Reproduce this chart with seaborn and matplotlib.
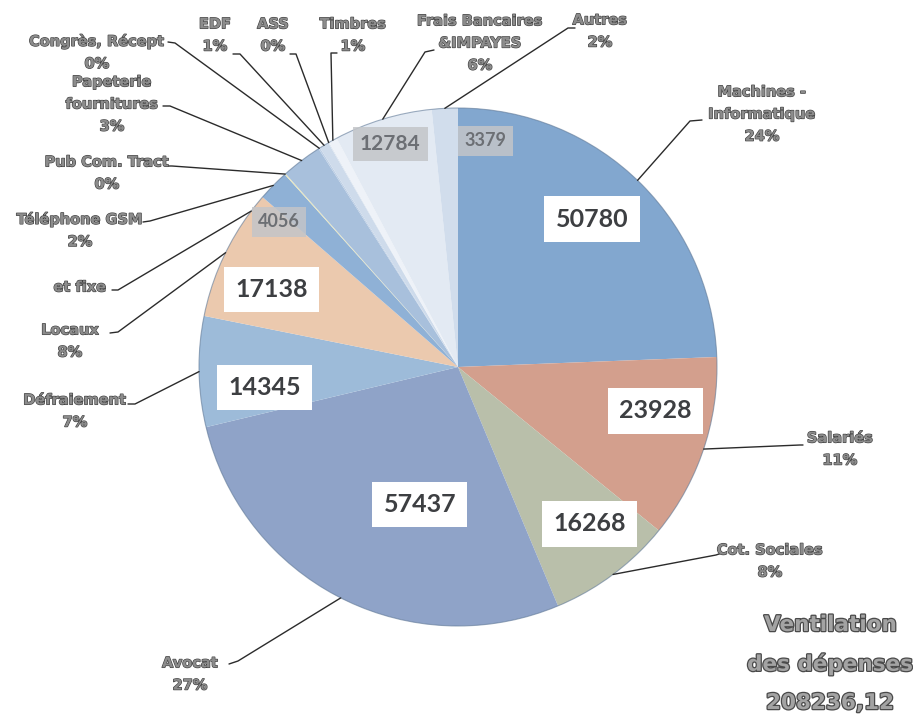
import numpy as np
import matplotlib
matplotlib.use("Agg")
import matplotlib.pyplot as plt
import matplotlib.patheffects as pe
import seaborn as sns

# --- Data ---
categories = ["Machines -\nInformatique", "Salariés", "Cot. Sociales", "Avocat",
              "Défraiement", "Locaux", "Téléphone GSM", "Pub Com. Tract",
              "Papeterie\nfournitures", "Congrès, Récept", "EDF", "ASS", "Timbres",
              "Frais Bancaires\n&IMPAYES", "Autres"]
values = [50780, 23928, 16268, 57437, 14345, 17138, 4056, 150,
          5300, 200, 1250, 121, 1100, 12784, 3379]
pct_labels = ["24%", "11%", "8%", "27%", "7%", "8%", "2%", "0%",
              "3%", "0%", "1%", "0%", "1%", "6%", "2%"]
show_value = [True, True, True, True, True, True, True, False,
              False, False, False, False, False, True, True]
title_lines = ["Ventilation", "des dépenses", "208236,12"]

colors = ["#82a7cf", "#d39f8d", "#b9bfaa", "#8fa3c8", "#9dbbd9", "#ebc9ae",
          "#8fb1d6", "#e9e7bb", "#a8c0dc", "#bdcfe5", "#cedbeb", "#dde6f1",
          "#eef2f8", "#e3eaf3", "#d1ddec"]

# --- Layout (pixels, y measured from the top) ---
W, H = 913, 715
CX, CY, R = 458, 367, 259

# value labels: radius fraction, angle shift (deg) from slice middle
value_pos = {0: (0.77, 1.7), 1: (0.78, 5.9), 2: (0.79, 3.2), 3: (0.55, 11.4),
             4: (0.75, 5.0), 5: (0.78, 3.7), 6: (0.89, 5.5), 13: (0.90, 0.0),
             14: (0.88, -9.9)}

# outer labels: text centre, leader elbow, leader end
outer = {
    0: ((762, 114), (690, 121), (702, 120)),
    1: ((840, 449), (800, 445), (803, 445)),
    2: ((770, 561), (716, 555), (722, 553)),
    3: ((190, 674), (238, 661), (229, 664)),
    4: ((75, 411), (135, 404), (128, 404)),
    5: ((70, 341), (118, 332), (110, 333)),
    6: ((80, 230), (150, 221), (143, 222)),
    7: ((107, 173), (172, 166), (168, 166)),
    8: ((112, 104), (170, 106), (163, 106)),
    9: ((97, 52), (175, 43), (168, 42)),
    10: ((215, 35), (240, 54), (233, 54)),
    11: ((273, 35), (296, 54), (290, 54)),
    12: ((353, 35), (331, 53), (337, 53)),
    13: ((480, 43), (425, 52), (434, 50)),
    14: ((600, 31), (568, 28), (575, 28)),
}
extra_label = ("et fixe", (80, 287), 143.0, (118, 290), (112, 290))


def Y(y):
    return H - y


def edge(angle, r=R):
    a = np.deg2rad(angle)
    return CX + r * np.cos(a), Y(CY) + r * np.sin(a)


sns.set_theme(style="white")
plt.rcParams["font.family"] = ["DejaVu Sans"]

fig = plt.figure(figsize=(W / 100, H / 100), dpi=100)
ax = fig.add_axes([0, 0, 1, 1])

wedges, _ = ax.pie(values, colors=colors, startangle=90, counterclock=False,
                   center=(CX, Y(CY)), radius=R,
                   wedgeprops=dict(linewidth=0))
ax.add_patch(plt.Circle((CX, Y(CY)), R, fill=False, lw=0.8,
                        ec="#5f7896", alpha=0.6))

ax.set_xlim(0, W)
ax.set_ylim(0, H)
ax.set_aspect("equal")
ax.axis("off")

mids = [(w.theta1 + w.theta2) / 2 for w in wedges]

# --- value boxes ---
for i, (v, show) in enumerate(zip(values, show_value)):
    if not show:
        continue
    rf, shift = value_pos[i]
    x, y = edge(mids[i] + shift, R * rf)
    if i in (6, 13, 14):
        fs = 15 if i == 13 else 13
        ax.text(x, y, str(v), ha="center", va="center", fontsize=fs,
                fontfamily="Lato", fontweight="bold", color="#6c6f74",
                bbox=dict(boxstyle="square,pad=0.35", fc="#c3c5c8",
                          ec="none", alpha=0.85))
    else:
        ax.text(x, y, str(v), ha="center", va="center", fontsize=18,
                fontfamily="Lato", fontweight="bold", color="#3d3f42",
                bbox=dict(boxstyle="square,pad=0.45", fc="white", ec="none"))

# --- outer labels with leader lines ---
label_fx = [pe.withStroke(linewidth=0.9, foreground="#404040")]
for i, (txt_xy, elbow, end) in outer.items():
    sx, sy = edge(mids[i])
    ax.plot([sx, elbow[0], end[0]], [sy, Y(elbow[1]), Y(end[1])],
            color="#2b2b2b", lw=1.0)
    ax.text(txt_xy[0], Y(txt_xy[1]), categories[i] + "\n" + pct_labels[i],
            ha="center", va="center", fontsize=10.5, fontweight="bold",
            color="#8c8c8c", linespacing=1.6, path_effects=label_fx)

name, txt_xy, ang, elbow, end = extra_label
sx, sy = edge(ang)
ax.plot([sx, elbow[0], end[0]], [sy, Y(elbow[1]), Y(end[1])],
        color="#2b2b2b", lw=1.0)
ax.text(txt_xy[0], Y(txt_xy[1]), name, ha="center", va="center",
        fontsize=10.5, fontweight="bold", color="#8c8c8c",
        path_effects=label_fx)

# --- title block ---
title_fx = [pe.withStroke(linewidth=1.8, foreground="#4a4a4a")]
for k, line in enumerate(title_lines):
    ax.text(830, Y(625 + 39 * k), line, ha="center", va="center",
            fontsize=15.5, fontweight="bold", color="#a3a3a3",
            path_effects=title_fx)

fig.savefig("out.png", dpi=100)
plt.close(fig)
